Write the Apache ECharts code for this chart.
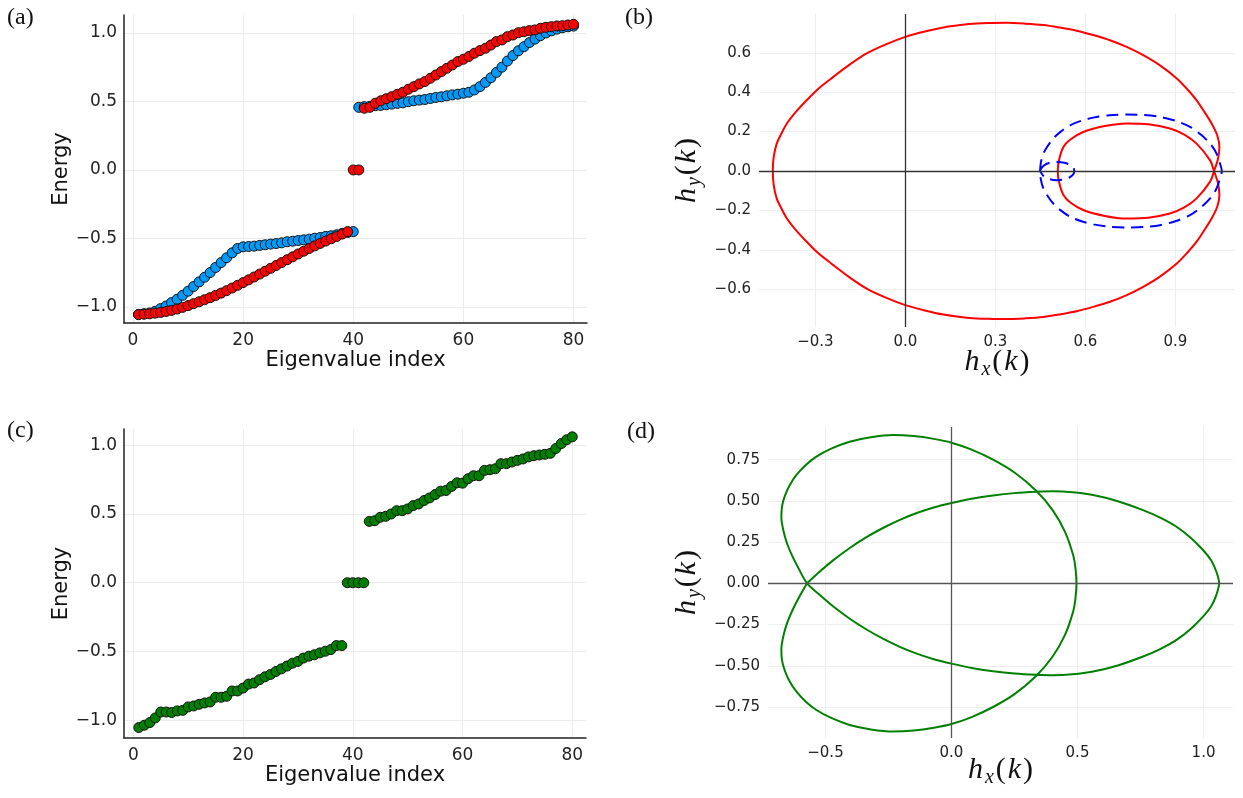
<!DOCTYPE html>
<html>
<head>
<meta charset="utf-8">
<title>Energy spectra and h(k) curves</title>
<script src="https://cdn.jsdelivr.net/npm/echarts@6/dist/echarts.min.js"></script>
<style>
  html, body { margin: 0; padding: 0; background: #fff; }
  #main { width: 1243px; height: 798px; }
</style>
</head>
<body>
<div id="main"></div>
<script>
// tick labels
var indexTicks = [0, 20, 40, 60, 80];
var energyTicks = [-1, -0.5, 0, 0.5, 1];
var hxTicksB = [-0.3, 0, 0.3, 0.6, 0.9];
var hyTicksB = [-0.6, -0.4, -0.2, 0, 0.2, 0.4, 0.6];
var hxTicksD = [-0.5, 0, 0.5, 1];
var hyTicksD = [-0.75, -0.5, -0.25, 0, 0.25, 0.5, 0.75];

// (a) energies, eigenvalue index 1..80
var blueEnergy = [
  -1.054, -1.049, -1.044, -1.032, -1.012, -0.993, -0.968, -0.944, -0.915, -0.885,
  -0.851, -0.817, -0.783, -0.749, -0.712, -0.676, -0.641, -0.605, -0.573, -0.561,
  -0.559, -0.556, -0.551, -0.546, -0.541, -0.537, -0.532, -0.524, -0.520, -0.515,
  -0.510, -0.505, -0.498, -0.493, -0.485, -0.480, -0.473, -0.463, -0.456, -0.450,
  0.457, 0.462, 0.464, 0.469, 0.471, 0.476, 0.481, 0.486, 0.490, 0.498,
  0.505, 0.510, 0.514, 0.522, 0.529, 0.534, 0.541, 0.548, 0.553, 0.560,
  0.567, 0.584, 0.608, 0.639, 0.673, 0.712, 0.750, 0.795, 0.835, 0.870,
  0.900, 0.930, 0.955, 0.980, 1.000, 1.015, 1.028, 1.038, 1.045, 1.050
];
var redEnergy = [
  -1.056, -1.053, -1.050, -1.045, -1.040, -1.033, -1.025, -1.015, -1.003, -0.990,
  -0.976, -0.962, -0.947, -0.932, -0.916, -0.899, -0.881, -0.862, -0.842, -0.822,
  -0.802, -0.781, -0.760, -0.739, -0.718, -0.697, -0.676, -0.655, -0.634, -0.613,
  -0.593, -0.573, -0.554, -0.536, -0.519, -0.502, -0.486, -0.468, -0.450, 0,
  0, 0.450, 0.457, 0.487, 0.505, 0.520, 0.535, 0.552, 0.567, 0.589,
  0.608, 0.628, 0.645, 0.669, 0.693, 0.718, 0.742, 0.766, 0.791, 0.808,
  0.828, 0.852, 0.871, 0.888, 0.912, 0.937, 0.949, 0.973, 0.985, 1.002,
  1.009, 1.017, 1.022, 1.034, 1.041, 1.046, 1.051, 1.053, 1.058, 1.063
];

// (c) energies
var greenEnergy = [
  -1.053, -1.036, -1.017, -0.983, -0.940, -0.940, -0.944, -0.932, -0.928, -0.903,
  -0.896, -0.884, -0.874, -0.867, -0.833, -0.833, -0.826, -0.787, -0.787, -0.766,
  -0.737, -0.729, -0.705, -0.684, -0.667, -0.645, -0.626, -0.606, -0.585, -0.572,
  -0.548, -0.534, -0.524, -0.510, -0.498, -0.486, -0.457, -0.457, 0, 0,
  0, 0, 0.446, 0.451, 0.476, 0.483, 0.500, 0.524, 0.524, 0.537,
  0.561, 0.573, 0.598, 0.617, 0.641, 0.666, 0.671, 0.700, 0.727, 0.724,
  0.756, 0.778, 0.778, 0.817, 0.822, 0.829, 0.866, 0.866, 0.878, 0.890,
  0.900, 0.915, 0.924, 0.929, 0.934, 0.941, 0.976, 1.012, 1.040, 1.061
];

// (b) red curve [hx, hy], traced once round (outer loop, then inner loop)
var redCurve = [
  [1.029, 0.000], [1.042, 0.060], [1.047, 0.120], [1.040, 0.180], [1.021, 0.241],
  [0.997, 0.300], [0.971, 0.359], [0.940, 0.415], [0.905, 0.470], [0.850, 0.535],
  [0.793, 0.588], [0.738, 0.630], [0.682, 0.664], [0.626, 0.690], [0.571, 0.712],
  [0.515, 0.728], [0.460, 0.741], [0.400, 0.748], [0.338, 0.752], [0.290, 0.751],
  [0.238, 0.749], [0.183, 0.741], [0.127, 0.729], [0.065, 0.708], [0.000, 0.681],
  [-0.065, 0.643], [-0.129, 0.597], [-0.185, 0.541], [-0.240, 0.478], [-0.290, 0.418],
  [-0.329, 0.359], [-0.365, 0.300], [-0.395, 0.241], [-0.415, 0.185], [-0.429, 0.139],
  [-0.439, 0.070], [-0.442, 0.000],
  [-0.439, -0.070], [-0.429, -0.139], [-0.415, -0.185], [-0.395, -0.241], [-0.365, -0.300],
  [-0.329, -0.359], [-0.290, -0.418], [-0.240, -0.478], [-0.185, -0.541], [-0.129, -0.597],
  [-0.065, -0.643], [0.000, -0.681], [0.065, -0.708], [0.127, -0.729], [0.183, -0.741],
  [0.238, -0.749], [0.290, -0.751], [0.338, -0.752], [0.400, -0.748], [0.460, -0.741],
  [0.515, -0.728], [0.571, -0.712], [0.626, -0.690], [0.682, -0.664], [0.738, -0.630],
  [0.793, -0.588], [0.850, -0.535], [0.905, -0.470], [0.940, -0.415], [0.971, -0.359],
  [0.997, -0.300], [1.021, -0.241], [1.040, -0.180], [1.047, -0.120], [1.042, -0.060],
  [1.029, 0.000],
  [1.016, 0.054], [0.971, 0.139], [0.930, 0.185], [0.882, 0.216], [0.810, 0.237],
  [0.738, 0.241], [0.665, 0.228], [0.593, 0.198], [0.550, 0.160], [0.527, 0.122],
  [0.513, 0.060], [0.508, 0.000], [0.513, -0.060], [0.527, -0.122], [0.550, -0.160],
  [0.593, -0.198], [0.665, -0.228], [0.738, -0.241], [0.810, -0.237], [0.882, -0.216],
  [0.930, -0.185], [0.971, -0.139], [1.016, -0.054], [1.029, 0.000]
];

// (b) blue dashed curve: big loop then small loop
var blueCurve = [
  [0.449, 0.000], [0.452, 0.045], [0.460, 0.088], [0.475, 0.128], [0.493, 0.165],
  [0.518, 0.200], [0.549, 0.232], [0.587, 0.255], [0.627, 0.271], [0.680, 0.283],
  [0.738, 0.287], [0.795, 0.284], [0.849, 0.275], [0.900, 0.255], [0.949, 0.224],
  [0.985, 0.185], [1.016, 0.139], [1.037, 0.090], [1.049, 0.038], [1.055, 0.000],
  [1.049, -0.038], [1.037, -0.090], [1.016, -0.139], [0.985, -0.185], [0.949, -0.224],
  [0.900, -0.255], [0.849, -0.275], [0.795, -0.284], [0.738, -0.287], [0.680, -0.283],
  [0.627, -0.271], [0.587, -0.255], [0.549, -0.232], [0.518, -0.200], [0.493, -0.165],
  [0.475, -0.128], [0.460, -0.088], [0.452, -0.045], [0.449, 0.000],
  [0.462, 0.028], [0.482, 0.042], [0.505, 0.046], [0.530, 0.042], [0.550, 0.030],
  [0.561, 0.014], [0.563, 0.000], [0.561, -0.014], [0.550, -0.030], [0.530, -0.042],
  [0.505, -0.047], [0.482, -0.042], [0.462, -0.028], [0.449, 0.000]
];

// (d) green curve: wide loop then tall loop, crossing near (-0.573, 0)
var greenCurve = [
  [-0.573, 0.000], [-0.520, 0.074], [-0.470, 0.139], [-0.405, 0.213], [-0.337, 0.280],
  [-0.270, 0.337], [-0.205, 0.385], [-0.135, 0.428], [-0.070, 0.460], [0.000, 0.487],
  [0.080, 0.513], [0.165, 0.533], [0.250, 0.547], [0.337, 0.555], [0.403, 0.558],
  [0.480, 0.552], [0.562, 0.535], [0.660, 0.498], [0.760, 0.444], [0.830, 0.397],
  [0.893, 0.343], [0.950, 0.275], [0.998, 0.202], [1.030, 0.140], [1.050, 0.075],
  [1.062, 0.000],
  [1.050, -0.075], [1.030, -0.140], [0.998, -0.202], [0.950, -0.275], [0.893, -0.343],
  [0.830, -0.397], [0.760, -0.444], [0.660, -0.498], [0.562, -0.535], [0.480, -0.552],
  [0.403, -0.558], [0.337, -0.555], [0.250, -0.547], [0.165, -0.533], [0.080, -0.513],
  [0.000, -0.487], [-0.070, -0.460], [-0.135, -0.428], [-0.205, -0.385], [-0.270, -0.337],
  [-0.337, -0.280], [-0.405, -0.213], [-0.470, -0.139], [-0.520, -0.074], [-0.573, 0.000],
  [-0.603, 0.080], [-0.630, 0.160], [-0.652, 0.240], [-0.667, 0.320], [-0.675, 0.400],
  [-0.672, 0.470], [-0.661, 0.530], [-0.642, 0.595], [-0.615, 0.657], [-0.579, 0.716],
  [-0.536, 0.768], [-0.475, 0.818], [-0.404, 0.859], [-0.320, 0.886], [-0.232, 0.899],
  [-0.150, 0.893], [-0.070, 0.876], [0.000, 0.853], [0.080, 0.811], [0.165, 0.750],
  [0.250, 0.672], [0.337, 0.560], [0.400, 0.447], [0.450, 0.314], [0.483, 0.170],
  [0.492, 0.090], [0.496, 0.000],
  [0.492, -0.090], [0.483, -0.170], [0.450, -0.314], [0.400, -0.447], [0.337, -0.560],
  [0.250, -0.672], [0.165, -0.750], [0.080, -0.811], [0.000, -0.853], [-0.070, -0.876],
  [-0.150, -0.893], [-0.232, -0.899], [-0.320, -0.886], [-0.404, -0.859], [-0.475, -0.818],
  [-0.536, -0.768], [-0.579, -0.716], [-0.615, -0.657], [-0.642, -0.595], [-0.661, -0.530],
  [-0.672, -0.470], [-0.675, -0.400], [-0.667, -0.320], [-0.652, -0.240], [-0.630, -0.160],
  [-0.603, -0.080], [-0.573, 0.000]
];

function withIndex(arr) {
  return arr.map(function (v, i) { return [i + 1, v]; });
}
function fmt(digits) {
  return function (v) { return Number(v).toFixed(digits).replace('-', '\u2212'); };
}

var sans = 'DejaVu Sans';
var serif = 'Liberation Serif';

var mathRich = {
  i: { fontFamily: serif, fontStyle: 'italic', fontSize: 30, color: '#111', padding: [0, 1, 0, 1] },
  s: { fontFamily: serif, fontStyle: 'italic', fontSize: 20, color: '#111', padding: [15, 1, 0, 1] },
  n: { fontFamily: serif, fontSize: 30, color: '#111', padding: [0, 1, 0, 1] }
};

function energyX(gridIndex, min, max) {
  return {
    type: 'value', gridIndex: gridIndex, min: min, max: max,
    name: 'Eigenvalue index', nameLocation: 'middle', nameGap: 21,
    nameTextStyle: { fontFamily: sans, fontSize: 21, color: '#111' },
    axisLine: { show: true, onZero: false, lineStyle: { color: '#222', width: 1.5 } },
    axisTick: { show: false, customValues: indexTicks },
    axisLabel: { customValues: indexTicks, fontFamily: sans, fontSize: 17, color: '#222', margin: 9 },
    splitLine: { show: true, lineStyle: { color: '#ebebeb', width: 1 } }
  };
}
function energyY(gridIndex, min, max) {
  return {
    type: 'value', gridIndex: gridIndex, min: min, max: max,
    name: 'Energy', nameLocation: 'middle', nameGap: 52, nameRotate: 90,
    nameTextStyle: { fontFamily: sans, fontSize: 21, color: '#111' },
    axisLine: { show: true, onZero: false, lineStyle: { color: '#222', width: 1.5 } },
    axisTick: { show: false, customValues: energyTicks },
    axisLabel: { customValues: energyTicks, formatter: fmt(1), fontFamily: sans, fontSize: 17, color: '#222', margin: 7 },
    splitLine: { show: true, lineStyle: { color: '#ebebeb', width: 1 } }
  };
}
function hAxis(gridIndex, min, max, ticks, digits, isY, gap) {
  return {
    type: 'value', gridIndex: gridIndex, min: min, max: max,
    name: isY ? '{i|h}{s|y}{n|(}{i|k}{n|)}' : '{i|h}{s|x}{n|(}{i|k}{n|)}',
    nameLocation: 'middle', nameGap: gap, nameRotate: isY ? 90 : 0,
    nameMoveOverlap: false,
    nameTextStyle: { rich: mathRich },
    axisLine: { show: false, onZero: false },
    axisTick: { show: false, customValues: ticks },
    axisLabel: { customValues: ticks, formatter: fmt(digits), fontFamily: sans, fontSize: 15, color: '#222', margin: 8 },
    splitLine: { show: true, lineStyle: { color: '#eeeeee', width: 1 } }
  };
}
function zeroLines(color) {
  return {
    silent: true, symbol: ['none', 'none'], label: { show: false },
    lineStyle: { color: color, type: 'solid', width: 1.3 },
    data: [{ xAxis: 0 }, { yAxis: 0 }]
  };
}

var chart = echarts.init(document.getElementById('main'));
var option = {
  animation: false,
  backgroundColor: '#ffffff',
  grid: [
    { left: 124, top: 15, width: 463, height: 308 },
    { left: 759, top: 14, width: 476, height: 313 },
    { left: 124, top: 429, width: 462, height: 309 },
    { left: 768, top: 427, width: 465, height: 311 }
  ],
  xAxis: [
    energyX(0, -1.64, 82.45),
    hAxis(1, -0.488, 1.099, hxTicksB, 1, false, 18),
    energyX(2, -1.7, 82.5),
    hAxis(3, -0.728, 1.117, hxTicksD, 1, false, 15)
  ],
  yAxis: [
    energyY(0, -1.117, 1.131),
    hAxis(1, -0.792, 0.797, hyTicksB, 1, true, 54),
    energyY(2, -1.129, 1.118),
    hAxis(3, -0.938, 0.948, hyTicksD, 2, true, 63)
  ],
  graphic: [
    { type: 'text', left: 7, top: 6, style: { text: '(a)', font: '24px "Liberation Serif"', fill: '#111' } },
    { type: 'text', left: 625, top: 6, style: { text: '(b)', font: '24px "Liberation Serif"', fill: '#111' } },
    { type: 'text', left: 7, top: 419, style: { text: '(c)', font: '24px "Liberation Serif"', fill: '#111' } },
    { type: 'text', left: 627, top: 420, style: { text: '(d)', font: '24px "Liberation Serif"', fill: '#111' } }
  ],
  series: [
    {
      type: 'scatter', xAxisIndex: 0, yAxisIndex: 0, data: withIndex(blueEnergy),
      symbolSize: 10, itemStyle: { color: '#009AFA', borderColor: '#111', borderWidth: 1, opacity: 1 }
    },
    {
      type: 'scatter', xAxisIndex: 0, yAxisIndex: 0, data: withIndex(redEnergy),
      symbolSize: 10, itemStyle: { color: '#ff0000', borderColor: '#111', borderWidth: 1, opacity: 1 }
    },
    {
      type: 'line', xAxisIndex: 1, yAxisIndex: 1, data: redCurve, showSymbol: false, smooth: 0.3,
      lineStyle: { color: '#ff0000', width: 2 }, z: 3,
      markLine: zeroLines('#333')
    },
    {
      type: 'line', xAxisIndex: 1, yAxisIndex: 1, data: blueCurve, showSymbol: false, smooth: 0.3,
      lineStyle: { color: '#0000ff', width: 2, type: [12, 7] }, z: 3
    },
    {
      type: 'scatter', xAxisIndex: 2, yAxisIndex: 2, data: withIndex(greenEnergy),
      symbolSize: 10, itemStyle: { color: '#008000', borderColor: '#111', borderWidth: 1, opacity: 1 }
    },
    {
      type: 'line', xAxisIndex: 3, yAxisIndex: 3, data: greenCurve, showSymbol: false, smooth: 0.3,
      lineStyle: { color: '#008000', width: 2 }, z: 3,
      markLine: zeroLines('#555')
    }
  ]
};
chart.setOption(option);
</script>
</body>
</html>
